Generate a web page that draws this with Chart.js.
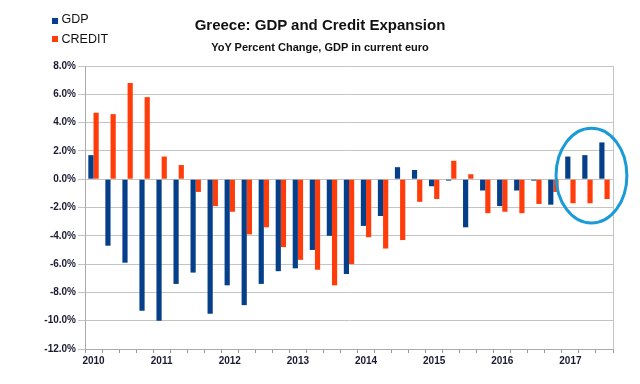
<!DOCTYPE html>
<html>
<head>
<meta charset="utf-8">
<script src="https://cdn.jsdelivr.net/npm/chart.js@4"></script>
<style>
  html,body{margin:0;padding:0;background:#fff;}
  #wrap{position:relative;width:640px;height:384px;font-family:"Liberation Sans",Arial,sans-serif;color:#111;}
  #c{position:absolute;left:0;top:0;}
  .t{position:absolute;white-space:nowrap;}
  .title{left:0;width:640px;text-align:center;top:16.6px;font-size:15px;line-height:15px;font-weight:bold;}
  .sub{left:0;width:640px;text-align:center;top:42.4px;font-size:11px;line-height:11px;font-weight:bold;}
  .leg{left:61.5px;font-size:12.5px;line-height:12.5px;}
  .sq{position:absolute;width:6px;height:6px;}
</style>
</head>
<body>
<div id="wrap">
  <canvas id="c" width="640" height="384"></canvas>
  <div class="t title">Greece: GDP and Credit Expansion</div>
  <div class="t sub">YoY Percent Change, GDP in current euro</div>
  <div class="sq" style="left:52px;top:18px;background:#053f8a"></div>
  <div class="t leg" style="top:13.4px">GDP</div>
  <div class="sq" style="left:52px;top:36px;background:#ff3c0a"></div>
  <div class="t leg" style="top:32.7px">CREDIT</div>
</div>
<script>
/* DATA: quarterly, 2010 Q1 .. 2017 Q3 */
const quarterLabels = ['2010','','','','2011','','','','2012','','','','2013','','','',
  '2014','','','','2015','','','','2016','','','','2017','',''];
const gdp = [1.7,-4.7,-5.9,-9.3,-10.0,-7.4,-6.6,-9.5,-7.5,-8.9,-7.4,-6.5,-6.3,-5.0,-4.0,-6.7,
  -3.3,-2.6,0.85,0.65,-0.5,-0.1,-3.4,-0.8,-1.9,-0.8,-0.1,-1.8,1.6,1.7,2.6];
const credit = [4.7,4.6,6.8,5.8,1.6,1.0,-0.9,-1.9,-2.3,-3.9,-3.4,-4.8,-5.7,-6.4,-7.5,-6.0,
  -4.1,-4.9,-4.3,-1.6,-1.4,1.3,0.35,-2.4,-2.3,-2.4,-1.75,-0.9,-1.7,-1.7,-1.4];
const yTicks = [-12,-10,-8,-6,-4,-2,0,2,4,6,8];

/* plot frame + highlight ellipse */
const extras = {
  id:'extras',
  afterDatasetsDraw(chart){
    const {ctx, chartArea:a, scales:{x,y}} = chart;
    ctx.save();
    ctx.strokeStyle = '#c4c4c4';
    ctx.lineWidth = 1;
    ctx.beginPath();
    ctx.moveTo(a.right+0.5, a.top); ctx.lineTo(a.right+0.5, a.bottom);
    ctx.stroke();
    // circle round the last three quarters
    const cx = x.getPixelForValue(29) + 4;
    const rx = (x.getPixelForValue(30) - x.getPixelForValue(28)) * 1.04;
    const top = y.getPixelForValue(3.6), bot = y.getPixelForValue(-3.1);
    ctx.strokeStyle = '#1a9bd7';
    ctx.lineWidth = 3;
    ctx.beginPath();
    ctx.ellipse(cx, (top+bot)/2, rx, (bot-top)/2, 0, 0, Math.PI*2);
    ctx.stroke();
    ctx.restore();
  }
};

const tickFont = {family:'"Liberation Sans", Arial, sans-serif', size:10, weight:'bold'};

new Chart(document.getElementById('c'), {
  type:'bar',
  data:{
    labels: quarterLabels,
    datasets:[
      {label:'GDP', data:gdp, backgroundColor:'#053f8a', borderWidth:0},
      {label:'CREDIT', data:credit, backgroundColor:'#ff3c0a', borderWidth:0}
    ]
  },
  options:{
    responsive:false,
    animation:false,
    devicePixelRatio:1,
    categoryPercentage:0.61,
    barPercentage:1,
    layout:{padding:{top:66, right:27, bottom:0, left:0}},
    plugins:{legend:{display:false}, tooltip:{enabled:false}},
    scales:{
      x:{
        grid:{drawOnChartArea:false, drawTicks:true, tickLength:4, color:'#999'},
        border:{color:'#aaa'},
        ticks:{autoSkip:false, maxRotation:0, color:'#1a1a33', font:tickFont, padding:2},
        afterFit(s){ s.height = 35; }
      },
      y:{
        min:-12, max:8,
        afterBuildTicks(s){ s.ticks = yTicks.map(v=>({value:v})); },
        grid:{color:'#c4c4c4', tickLength:7},
        border:{color:'#aaa'},
        ticks:{color:'#1a1a33', font:tickFont, padding:2, callback:v=> v.toFixed(1)+'%'},
        afterFit(s){ s.width = 85; }
      }
    }
  },
  plugins:[extras]
});
</script>
</body>
</html>
